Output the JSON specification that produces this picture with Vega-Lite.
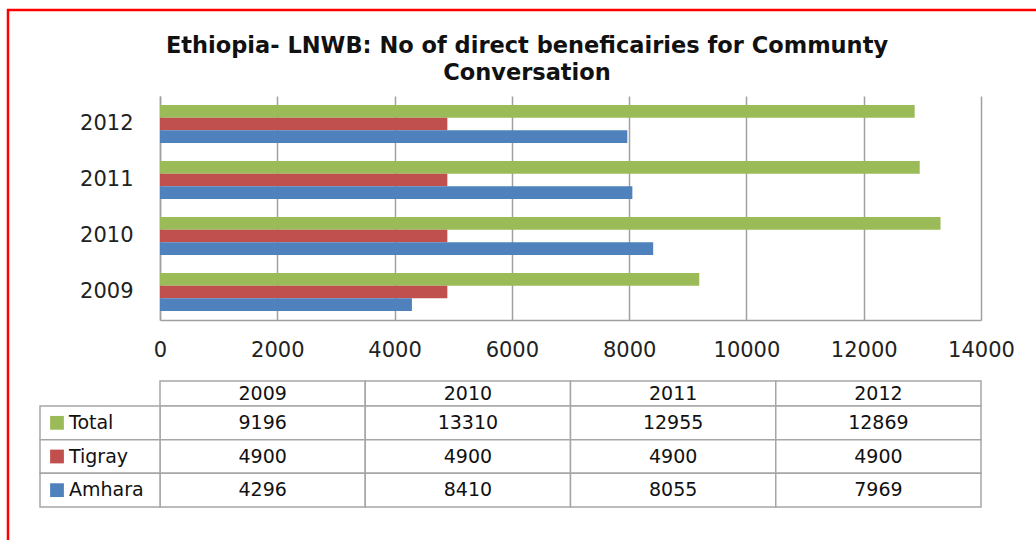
{
  "$schema": "https://vega.github.io/schema/vega-lite/v6.json",
  "width": 1078,
  "height": 580,
  "autosize": {"type": "none"},
  "padding": {"left": 8, "top": 10, "right": -50, "bottom": -50},
  "background": "white",
  "config": {"view": {"stroke": "#ff0000", "strokeWidth": 2.5}, "font": "DejaVu Sans"},
  "title": {
    "text": ["Ethiopia- LNWB: No of direct beneficairies for Communty", "Conversation"],
    "font": "DejaVu Sans", "fontSize": 22.5, "fontWeight": "bold", "color": "#111111",
    "anchor": "middle", "frame": "group", "offset": -92, "dx": -20,
    "baseline": "alphabetic", "lineHeight": 27
  },
  "datasets": {
    "bene": [
      {"year": "2009", "series": "Total", "value": 9196},
      {"year": "2010", "series": "Total", "value": 13310},
      {"year": "2011", "series": "Total", "value": 12955},
      {"year": "2012", "series": "Total", "value": 12869},
      {"year": "2009", "series": "Tigray", "value": 4900},
      {"year": "2010", "series": "Tigray", "value": 4900},
      {"year": "2011", "series": "Tigray", "value": 4900},
      {"year": "2012", "series": "Tigray", "value": 4900},
      {"year": "2009", "series": "Amhara", "value": 4296},
      {"year": "2010", "series": "Amhara", "value": 8410},
      {"year": "2011", "series": "Amhara", "value": 8055},
      {"year": "2012", "series": "Amhara", "value": 7969}
    ]
  },
  "data": {"name": "bene"},
  "resolve": {
    "scale": {"x": "independent", "y": "independent"},
    "axis": {"x": "independent", "y": "independent"}
  },
  "layer": [
    {
      "mark": {"type": "bar"},
      "encoding": {
        "y": {
          "field": "year", "type": "nominal", "sort": "descending",
          "scale": {"range": [86, 310], "paddingInner": 0.32, "paddingOuter": 0.16},
          "axis": {
            "orient": "left", "offset": -152, "ticks": false, "title": null,
            "domainColor": "#a0a0a0", "domainWidth": 1.5,
            "labelFont": "DejaVu Sans", "labelFontSize": 21, "labelColor": "#222222", "labelPadding": 27
          }
        },
        "yOffset": {"field": "series", "type": "nominal", "sort": ["Total", "Tigray", "Amhara"]},
        "x": {
          "field": "value", "type": "quantitative",
          "scale": {"domain": [0, 14000], "range": [152, 973], "nice": false},
          "axis": {
            "orient": "bottom", "offset": -270, "title": null, "format": "d",
            "values": [0, 2000, 4000, 6000, 8000, 10000, 12000, 14000],
            "grid": false, "tickSize": -224, "tickColor": "#a0a0a0", "tickWidth": 1.5,
            "domainColor": "#a0a0a0", "domainWidth": 1.5, "labelFlush": false,
            "labelFont": "DejaVu Sans", "labelFontSize": 21, "labelColor": "#222222",
            "labelPadding": 254, "labelBaseline": "middle"
          }
        },
        "color": {
          "field": "series", "type": "nominal",
          "scale": {"domain": ["Total", "Tigray", "Amhara"], "range": ["#9BBB59", "#C0504D", "#4F81BD"]},
          "legend": null
        }
      }
    },
    {
      "transform": [{"filter": "datum.series == 'Total'"}],
      "mark": {"type": "rect", "fill": "white", "stroke": "#a6a6a6", "strokeWidth": 1.5},
      "encoding": {
        "x": {"field": "year", "type": "nominal", "scale": {"range": [152, 973], "paddingInner": 0, "paddingOuter": 0}, "axis": null},
        "y": {"datum": "header", "type": "nominal", "scale": {"domain": ["header"], "range": [371, 396], "paddingInner": 0, "paddingOuter": 0}, "axis": null}
      }
    },
    {
      "transform": [{"filter": "datum.series == 'Total'"}],
      "mark": {"type": "text", "font": "DejaVu Sans", "fontSize": 19, "color": "#111111", "baseline": "middle"},
      "encoding": {
        "x": {"field": "year", "type": "nominal", "scale": {"range": [152, 973], "paddingInner": 0, "paddingOuter": 0}, "axis": null},
        "y": {"datum": "header", "type": "nominal", "scale": {"domain": ["header"], "range": [371, 396], "paddingInner": 0, "paddingOuter": 0}, "axis": null},
        "text": {"field": "year", "type": "nominal"}
      }
    },
    {
      "mark": {"type": "rect", "fill": "white", "stroke": "#a6a6a6", "strokeWidth": 1.5},
      "encoding": {
        "x": {"field": "year", "type": "nominal", "scale": {"range": [152, 973], "paddingInner": 0, "paddingOuter": 0}, "axis": null},
        "y": {"field": "series", "type": "nominal", "sort": ["Total", "Tigray", "Amhara"], "scale": {"range": [396, 497], "paddingInner": 0, "paddingOuter": 0}, "axis": null}
      }
    },
    {
      "mark": {"type": "text", "font": "DejaVu Sans", "fontSize": 19, "color": "#111111", "baseline": "middle"},
      "encoding": {
        "x": {"field": "year", "type": "nominal", "scale": {"range": [152, 973], "paddingInner": 0, "paddingOuter": 0}, "axis": null},
        "y": {"field": "series", "type": "nominal", "sort": ["Total", "Tigray", "Amhara"], "scale": {"range": [396, 497], "paddingInner": 0, "paddingOuter": 0}, "axis": null},
        "text": {"field": "value", "type": "quantitative", "format": "d"}
      }
    },
    {
      "transform": [{"filter": "datum.year == '2009'"}],
      "mark": {"type": "rect", "fill": "white", "stroke": "#a6a6a6", "strokeWidth": 1.5},
      "encoding": {
        "x": {"datum": "label", "type": "nominal", "scale": {"domain": ["label"], "range": [32, 152], "paddingInner": 0, "paddingOuter": 0}, "axis": null},
        "y": {"field": "series", "type": "nominal", "sort": ["Total", "Tigray", "Amhara"], "scale": {"range": [396, 497], "paddingInner": 0, "paddingOuter": 0}, "axis": null}
      }
    },
    {
      "transform": [{"filter": "datum.year == '2009'"}],
      "mark": {"type": "point", "shape": "square", "filled": true, "size": 190, "opacity": 1, "xOffset": -43},
      "encoding": {
        "x": {"datum": "label", "type": "nominal", "scale": {"domain": ["label"], "range": [32, 152], "paddingInner": 0, "paddingOuter": 0}, "axis": null},
        "y": {"field": "series", "type": "nominal", "sort": ["Total", "Tigray", "Amhara"], "scale": {"range": [396, 497], "paddingInner": 0, "paddingOuter": 0}, "axis": null},
        "color": {"field": "series", "type": "nominal", "legend": null}
      }
    },
    {
      "transform": [{"filter": "datum.year == '2009'"}],
      "mark": {"type": "text", "font": "DejaVu Sans", "fontSize": 19, "color": "#111111", "baseline": "middle", "align": "left", "dx": -31},
      "encoding": {
        "x": {"datum": "label", "type": "nominal", "scale": {"domain": ["label"], "range": [32, 152], "paddingInner": 0, "paddingOuter": 0}, "axis": null},
        "y": {"field": "series", "type": "nominal", "sort": ["Total", "Tigray", "Amhara"], "scale": {"range": [396, 497], "paddingInner": 0, "paddingOuter": 0}, "axis": null},
        "text": {"field": "series", "type": "nominal"}
      }
    }
  ]
}
